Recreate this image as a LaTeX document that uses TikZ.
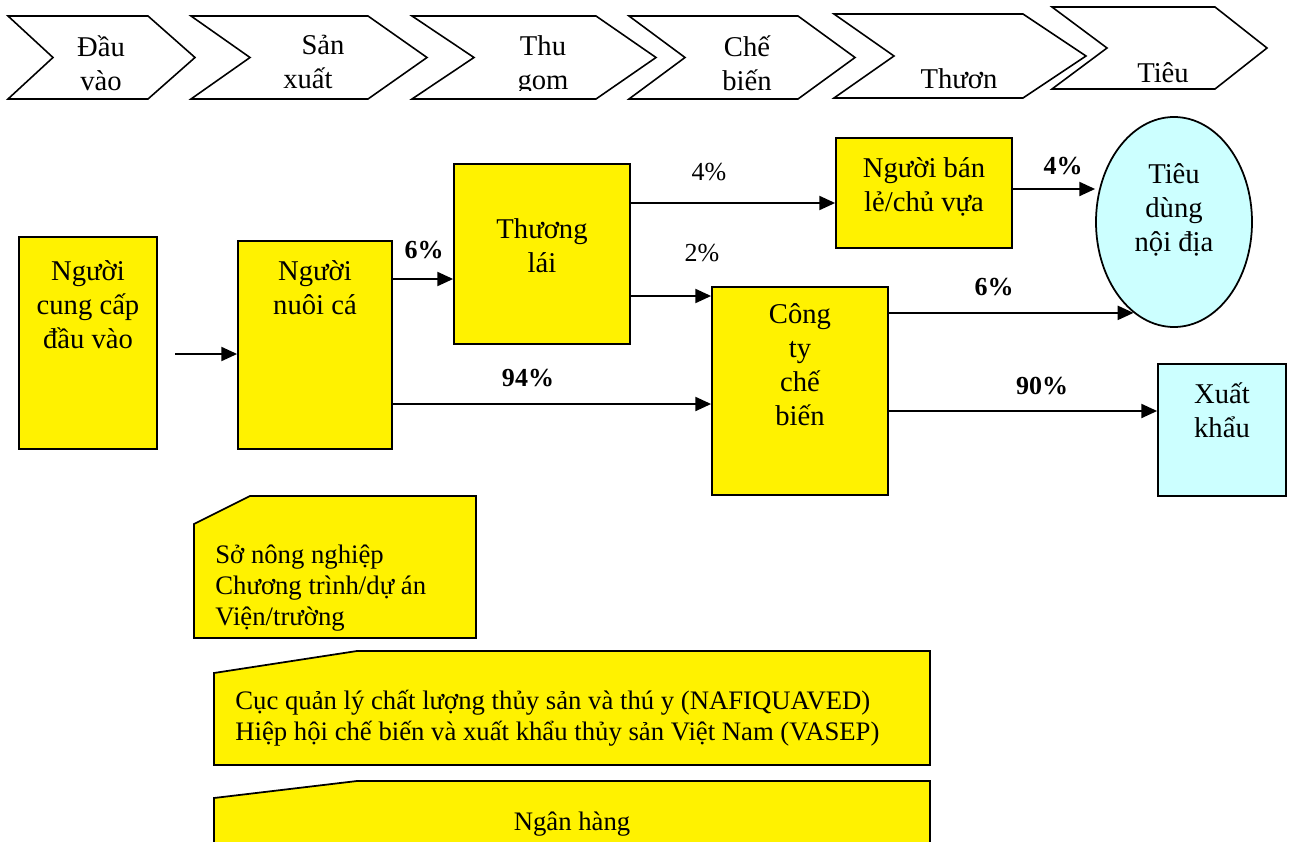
\documentclass[tikz,border=0pt]{standalone}
\usepackage{fontspec}
\setmainfont{Liberation Serif}
\usetikzlibrary{positioning,shapes.geometric,arrows.meta}
\definecolor{paleCyan}{RGB}{204,255,255}
\tikzset{main box/.style={draw,line width=1pt,fill=yellow,inner sep=0pt},
         end box/.style={draw,line width=1pt,fill=paleCyan,inner sep=0pt},
         box text/.style={align=center,inner sep=0pt,anchor=north,
             font=\fontsize{16.3}{19.3}\selectfont,execute at begin node=\strut},
         note text/.style={align=left,inner sep=0pt,anchor=north west,
             font=\fontsize{15.2}{17.5}\selectfont,execute at begin node=\strut},
         pct/.style={inner sep=0pt,anchor=base,font=\fontsize{14.8}{17}\selectfont\bfseries},
         pct plain/.style={inner sep=0pt,anchor=base,font=\fontsize{14.8}{17}\selectfont},
         flow/.style={line width=1.1pt,-{Triangle[length=9pt,width=8pt]}},
         stage/.style={draw,line width=0.9pt,fill=white},
            }

\begin{document}
\begin{tikzpicture}[x=0.2mm,y=-0.2mm]
    \useasboundingbox (0,0) rectangle (1292,841);

    % value chain stages
    \foreach \l/\n/\r/\t/\tp/\bt in {8/53/148/195/16/99, 191/250/368/427/16/99,
        412/474/596/656/16/99, 629/685/798/855/16/99,
        834/894/1023/1086/14/98, 1052/1107/1215/1267/7/89}
        \draw[stage] (\l,\tp) -- (\r,\tp) -- (\t,{(\tp+\bt)/2}) -- (\r,\bt)
            -- (\l,\bt) -- (\n,{(\tp+\bt)/2}) -- cycle;

    \node[box text] (s1) at (101,35) {Đầu\\vào};
    \node[box text] (s2) at (308,35) {\hspace*{1.05em}Sản\\xuất};
    \begin{scope}
        \clip (412,16) rectangle (660,90);
        \node[box text] (s3) at (543,35) {Thu\\gom};
    \end{scope}
    \node[box text] (s4) at (747,35) {Chế\\biến};
    \node[box text] (s5) at (959,64) {Thươn};
    \node[box text] (s6) at (1163,58) {Tiêu};

    % actors
    \node[main box,minimum width=27.6mm,minimum height=42.4mm] (input) at (88,343) {};
    \node[main box,minimum width=30.8mm,minimum height=41.6mm] (farmer) at (315,345) {};
    \node[main box,minimum width=35.2mm,minimum height=36mm] (trader) at (542,254) {};
    \node[main box,minimum width=35.2mm,minimum height=22mm] (retail) at (924,193) {};
    \node[main box,minimum width=35.2mm,minimum height=41.6mm] (plant) at (800,391) {};
    \node[end box,minimum width=25.6mm,minimum height=26.4mm] (export) at (1222,430) {};
    \node[end box,ellipse,minimum width=31.2mm,minimum height=42mm] (local) at (1174,222) {};

    \node[box text] (inputtext) at (88,260) {Người\\cung cấp\\đầu vào};
    \node[box text] (farmertext) at (315,260) {Người\\nuôi cá};
    \node[box text] (tradertext) at (542,218) {Thương\\lái};
    \node[box text] (retailtext) at (924,157) {Người bán\\lẻ/chủ vựa};
    \node[box text] (planttext) at (800,303) {Công\\ty\\chế\\biến};
    \node[box text] (exporttext) at (1222,382) {Xuất\\khẩu};
    \node[box text] (localtext) at (1174,163) {Tiêu\\dùng\\nội địa};

    % flows
    \draw[flow,shorten <=10pt] (input.east |- 0,354) -- (farmer.west |- 0,354);
    \draw[flow] (farmer.east |- 0,279) -- (trader.west |- 0,279);
    \draw[flow] (farmer.east |- 0,404) -- (plant.west |- 0,404);
    \draw[flow] (trader.east |- 0,203) -- (retail.west |- 0,203);
    \draw[flow] (trader.east |- 0,296) -- (plant.west |- 0,296);
    \draw[flow] (retail.east |- 0,189) -- (local.west |- 0,189);
    \draw[flow] (plant.east |- local.246) -- (local.246);
    \draw[flow] (plant.east |- 0,411) -- (export.west |- 0,411);

    \node[pct] (p1) at (424,258) {6\%};
    \node[pct] (p2) at (528,386) {94\%};
    \node[pct plain] (p3) at (709,180) {4\%};
    \node[pct plain] (p4) at (702,261) {2\%};
    \node[pct] (p5) at (1063,174) {4\%};
    \node[pct] (p6) at (994,295) {6\%};
    \node[pct] (p7) at (1042,394) {90\%};

    % support institutions
    \draw[main box] (250,496) -- (476,496) -- (476,638) -- (194,638) -- (194,524) -- cycle;
    \draw[main box] (357,651) -- (930,651) -- (930,765) -- (214,765) -- (214,673) -- cycle;
    \draw[main box] (357,781) -- (930,781) -- (930,870) -- (214,870) -- (214,798) -- cycle;

    \node[note text] (dept) at (215,545) {Sở nông nghiệp\\Chương trình/dự án\\Viện/trường};
    \node[note text] (assoc) at (235,690) {Cục quản lý chất lượng thủy sản và thú y (NAFIQUAVED)\\Hiệp hội chế biến và xuất khẩu thủy sản Việt Nam (VASEP)};
    \node[note text,anchor=base] (bank) at (572,830) {Ngân hàng};

\end{tikzpicture}
\end{document}
